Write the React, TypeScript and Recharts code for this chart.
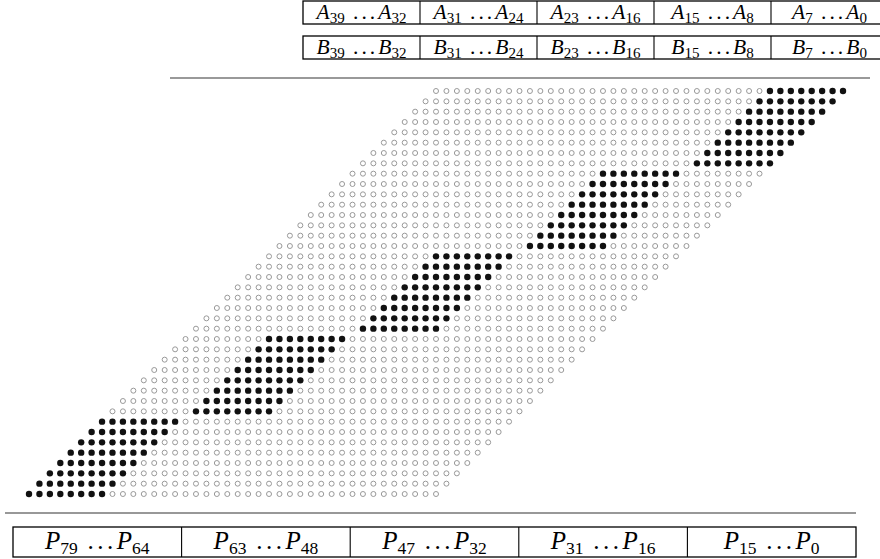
import React from 'react';
import { ScatterChart, Scatter, XAxis, YAxis, Customized } from 'recharts';

// operand size and the block size of the diagonal groups
const bitCount = 40;
const groupSize = 8;

// operand group labels (high bit, low bit), left to right
const aHigh = [39, 31, 23, 15, 7];
const aLow = [32, 24, 16, 8, 0];
const bHigh = [39, 31, 23, 15, 7];
const bLow = [32, 24, 16, 8, 0];
// product groups
const pHigh = [79, 63, 47, 31, 15];
const pLow = [64, 48, 32, 16, 0];

type Dot = { col: number; row: number };

// partial product bit A_j*B_i sits in column i+j, row i
const openDots: Dot[] = [];
const filledDots: Dot[] = [];
for (let i = 0; i < bitCount; i++) {
  for (let j = 0; j < bitCount; j++) {
    const d = { col: i + j, row: i };
    if (Math.floor(i / groupSize) === Math.floor(j / groupSize)) filledDots.push(d);
    else openDots.push(d);
  }
}

const serif = '"Liberation Serif", "DejaVu Serif", serif';

const Label = ({ x, y, letter, hi, lo, size }: any) => (
  <text x={x} y={y} textAnchor="middle" fontFamily={serif} fontSize={size} fill="#000">
    <tspan fontStyle="italic">{letter}</tspan>
    <tspan fontSize={size * 0.7} dy={size * 0.2}>{hi}</tspan>
    <tspan dy={-size * 0.2} letterSpacing={size * 0.14}> ...</tspan>
    <tspan fontStyle="italic">{letter}</tspan>
    <tspan fontSize={size * 0.7} dy={size * 0.2}>{lo}</tspan>
  </text>
);

const BoxRow = ({ x0, width, y, h, letter, hi, lo, size, base }: any) => {
  const cw = width / hi.length;
  return (
    <g>
      <rect x={x0} y={y} width={width} height={h} fill="none" stroke="#000" strokeWidth={1.3} />
      {hi.map((_: number, k: number) =>
        k > 0 ? (
          <line key={'d' + k} x1={x0 + k * cw} x2={x0 + k * cw} y1={y} y2={y + h} stroke="#000" strokeWidth={1.1} />
        ) : null
      )}
      {hi.map((h1: number, k: number) => (
        <Label key={k} x={x0 + (k + 0.5) * cw} y={y + base} letter={letter} hi={h1} lo={lo[k]} size={size} />
      ))}
    </g>
  );
};

const Frame = () => (
  <g>
    <BoxRow x0={303} width={585} y={1} h={23} base={18} letter="A" hi={aHigh} lo={aLow} size={21.5} />
    <BoxRow x0={303} width={585} y={36} h={23} base={18} letter="B" hi={bHigh} lo={bLow} size={21.5} />
    <line x1={170} x2={870} y1={78} y2={78} stroke="#777" strokeWidth={1.5} />
    <line x1={5} x2={856} y1={513} y2={513} stroke="#333" strokeWidth={1.2} />
    <BoxRow x0={13} width={843} y={527} h={30} base={22} letter="P" hi={pHigh} lo={pLow} size={25} />
  </g>
);

const OpenDot = (p: any) => (
  <circle cx={p.cx} cy={p.cy} r={2.5} fill="#fff" stroke="#999" strokeWidth={1} />
);
const FilledDot = (p: any) => <circle cx={p.cx} cy={p.cy} r={3.2} fill="#111" />;

export default function App() {
  return (
    <div style={{ position: 'absolute', left: 0, top: 0, background: '#fff' }}>
      <ScatterChart width={880} height={559} margin={{ top: 91, right: 37, bottom: 65, left: 29 }}>
        <XAxis type="number" dataKey="col" domain={[0, 2 * bitCount - 2]} reversed hide />
        <YAxis type="number" dataKey="row" domain={[0, bitCount - 1]} reversed hide />
        <Scatter data={openDots} shape={OpenDot} isAnimationActive={false} />
        <Scatter data={filledDots} shape={FilledDot} isAnimationActive={false} />
        <Customized component={Frame} />
      </ScatterChart>
    </div>
  );
}
